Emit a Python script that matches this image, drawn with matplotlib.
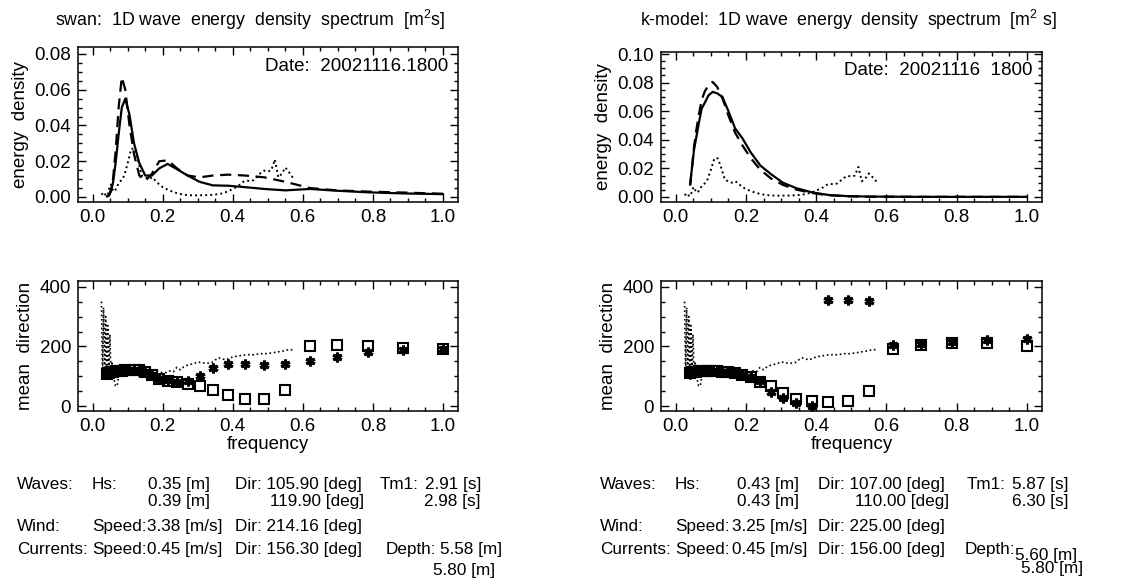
import numpy as np
import matplotlib
matplotlib.use("Agg")
import matplotlib.pyplot as plt
from matplotlib.ticker import MultipleLocator, FormatStrFormatter

plt.rcParams['font.family'] = ['Liberation Sans', 'DejaVu Sans']
plt.rcParams['mathtext.default'] = 'regular'

# model frequency grid [Hz]
freq = [0.041, 0.046, 0.052, 0.058, 0.066, 0.074, 0.083, 0.093, 0.105, 0.118,
        0.133, 0.150, 0.169, 0.190, 0.214, 0.241, 0.271, 0.305, 0.343, 0.387,
        0.435, 0.490, 0.550, 0.620, 0.698, 0.787, 0.886, 1.000]

# swan spectra (solid / dashed)
swan_e1 = [0.0003, 0.0008, 0.003, 0.008, 0.020, 0.035, 0.050, 0.055, 0.046, 0.030,
           0.019, 0.012, 0.012, 0.016, 0.0185, 0.0155, 0.012, 0.0085, 0.0065, 0.0063,
           0.0055, 0.0045, 0.0037, 0.0045, 0.0035, 0.0026, 0.0020, 0.0016]
swan_e2 = [0.0003, 0.0008, 0.004, 0.010, 0.027, 0.050, 0.067, 0.060, 0.040, 0.024,
           0.012, 0.009, 0.013, 0.020, 0.0205, 0.016, 0.012, 0.011, 0.012, 0.0125,
           0.012, 0.011, 0.0085, 0.005, 0.0037, 0.003, 0.0025, 0.0018]
# k-model spectra (solid / dashed)
kmod_e1 = [0.009, 0.020, 0.033, 0.041, 0.052, 0.062, 0.066, 0.071, 0.0735, 0.0725,
           0.070, 0.060, 0.048, 0.041, 0.031, 0.022, 0.016, 0.010, 0.0062, 0.0033,
           0.0014, 0.0006, 0.0003, 0.0002, 0.0001, 0.0001, 0.0001, 0.0001]
kmod_e2 = [0.008, 0.020, 0.035, 0.046, 0.058, 0.068, 0.074, 0.078, 0.0805, 0.077,
           0.069, 0.057, 0.045, 0.036, 0.027, 0.019, 0.013, 0.0085, 0.0052, 0.0028,
           0.0012, 0.0005, 0.0002, 0.0002, 0.0001, 0.0001, 0.0001, 0.0001]

# mean directions [deg] (squares / asterisks)
swan_d1 = [108, 112, 115, 116, 117, 118, 119, 120, 121, 121,
           120, 115, 103, 92, 86, 81, 75, 67, 53, 38,
           25, 25, 55, 202, 206, 202, 195, 193]
swan_d2 = [110, 115, 117, 118, 119, 120, 121, 122, 122, 121,
           119, 114, 105, 92, 87, 82, 86, 101, 128, 140,
           142, 139, 142, 151, 165, 181, 189, 193]
kmod_d1 = [110, 113, 115, 116, 117, 118, 118, 118, 118, 117,
           116, 114, 112, 106, 97, 82, 67, 43, 25, 16,
           13, 17, 52, 190, 205, 212, 213, 203]
kmod_d2 = [108, 112, 115, 117, 118, 118, 119, 119, 118, 117,
           116, 114, 112, 106, 98, 84, 49, 27, 11, 2,
           357, 357, 351, 206, 208, 216, 223, 225]

# observed buoy spectrum (dotted)
obs_f = [0.025, 0.028, 0.031, 0.034, 0.037, 0.040, 0.043, 0.046, 0.049, 0.052,
         0.055, 0.060, 0.065, 0.070, 0.075, 0.080, 0.085, 0.090, 0.10, 0.11,
         0.12, 0.13, 0.14, 0.15, 0.16, 0.17, 0.18, 0.19, 0.20, 0.21,
         0.22, 0.23, 0.24, 0.25, 0.26, 0.27, 0.28, 0.29, 0.30, 0.31,
         0.32, 0.33, 0.34, 0.35, 0.36, 0.37, 0.38, 0.39, 0.40, 0.41,
         0.42, 0.43, 0.44, 0.45, 0.46, 0.47, 0.48, 0.49, 0.50, 0.51,
         0.52, 0.53, 0.54, 0.55, 0.56, 0.575]
obs_e = [0.002, 0.0015, 0.001, 0.002, 0.001, 0.0005, 0.0015, 0.004, 0.006, 0.007,
         0.005, 0.003, 0.004, 0.006, 0.008, 0.009, 0.010, 0.012, 0.019, 0.027,
         0.027, 0.020, 0.012, 0.011, 0.010, 0.011, 0.009, 0.007, 0.0055, 0.0045,
         0.0036, 0.0028, 0.0022, 0.0017, 0.0013, 0.0011, 0.0010, 0.0009, 0.0009, 0.0010,
         0.0010, 0.0011, 0.0012, 0.0014, 0.0017, 0.0020, 0.0027, 0.0035, 0.0045, 0.0055,
         0.0068, 0.0085, 0.0092, 0.0088, 0.0095, 0.0115, 0.0135, 0.0148, 0.0142, 0.015,
         0.021, 0.011, 0.013, 0.0165, 0.014, 0.0098]
obs_d = [350, 105, 330, 100, 300, 110, 270, 105, 240, 110,
         150, 95, 68, 68, 110, 140, 128, 122, 125, 122,
         126, 128, 126, 122, 120, 121, 120, 115, 112, 113,
         118, 115, 130, 122, 132, 137, 140, 143, 148, 146,
         144, 144, 146, 155, 162, 158, 155, 160, 165, 167,
         169, 171, 172, 173, 172, 174, 176, 175, 177, 178,
         180, 182, 184, 186, 190, 188]

titles = ["swan:  1D wave  energy  density  spectrum  [m$^2$s]",
          "k-model:  1D wave  energy  density  spectrum  [m$^2$ s]"]
dates = ["Date:  20021116.1800", "Date:  20021116  1800"]

W, H = 1139, 587
fig = plt.figure(figsize=(W / 100, H / 100), dpi=100)
LBL = 13.5


def box(x0, y0, x1, y1):
    return [x0 / W, 1 - y1 / H, (x1 - x0) / W, (y1 - y0) / H]


def style(ax, ymaj, ymin):
    ax.set_xlim(-0.042, 1.043)
    ax.xaxis.set_major_locator(MultipleLocator(0.2))
    ax.xaxis.set_minor_locator(MultipleLocator(0.05))
    ax.yaxis.set_major_locator(MultipleLocator(ymaj))
    ax.yaxis.set_minor_locator(MultipleLocator(ymin))
    ax.tick_params(which='both', direction='in', top=True, right=True, labelsize=LBL, pad=5)
    ax.tick_params(which='major', length=5.5, width=1)
    ax.tick_params(which='minor', length=2.8, width=1)
    for s in ax.spines.values():
        s.set_linewidth(1.1)


top_axes = [fig.add_axes(box(78, 47, 458, 202)), fig.add_axes(box(661, 52, 1042, 202))]
bot_axes = [fig.add_axes(box(78, 281, 458, 411)), fig.add_axes(box(661, 281, 1042, 411))]

spec = [(swan_e1, swan_e2), (kmod_e1, kmod_e2)]
dirs = [(swan_d1, swan_d2), (kmod_d1, kmod_d2)]
ylims = [(-0.0028, 0.0839), (-0.0035, 0.1014)]

for i in range(2):
    ax = top_axes[i]
    ax.plot(freq, spec[i][0], color='black', lw=1.6)
    ax.plot(freq, spec[i][1], color='black', lw=1.6, dashes=(5, 3))
    ax.plot(obs_f, obs_e, color='black', lw=1.4, linestyle=(0, (1, 1.6)))
    ax.set_ylim(*ylims[i])
    style(ax, 0.02, 0.005)
    ax.yaxis.set_major_formatter(FormatStrFormatter('%.2f'))
    ax.set_ylabel("energy  density", fontsize=LBL, labelpad=4)
    ax.text(0.975, 0.875, dates[i], transform=ax.transAxes, ha='right', va='center', fontsize=LBL)

    ax = bot_axes[i]
    ax.plot(obs_f, obs_d, color='black', lw=1.2, linestyle=(0, (1, 1.6)))
    ax.plot(freq, dirs[i][0], linestyle='none', marker='s', ms=6.5, mfc='none', mec='black', mew=1.5)
    ax.plot(freq, dirs[i][1], linestyle='none', marker=(6, 2, 0), ms=7, mec='black', mew=2.2)
    ax.set_ylim(-16, 419)
    style(ax, 200, 50)
    ax.yaxis.set_major_formatter(FormatStrFormatter('%d'))
    ax.set_ylabel("mean  direction", fontsize=LBL, labelpad=4)
    ax.set_xlabel("frequency", fontsize=LBL, labelpad=1)

fig.text(250 / W, 1 - 20 / H, titles[0], ha='center', va='center', fontsize=12.8)
fig.text(848 / W, 1 - 20 / H, titles[1], ha='center', va='center', fontsize=12.8)

# parameter block (y = text baseline in pixels)
fs = 12.3


def put(x, y, s, ha='left'):
    fig.text(x / W, 1 - y / H, s, ha=ha, va='baseline', fontsize=fs)


# left (swan)
put(17, 489, "Waves:")
put(92, 489, "Hs:")
put(148, 489, "0.35 [m]")
put(235, 489, "Dir: 105.90 [deg]")
put(380, 489, "Tm1:")
put(481, 489, "2.91 [s]", 'right')
put(148, 506, "0.39 [m]")
put(364, 506, "119.90 [deg]", 'right')
put(481, 506, "2.98 [s]", 'right')
put(17, 531, "Wind:")
put(92, 531, "Speed:")
put(147, 531, "3.38 [m/s]")
put(235, 531, "Dir: 214.16 [deg]")
put(17, 554, "Currents:")
put(92, 554, "Speed:")
put(147, 554, "0.45 [m/s]")
put(235, 554, "Dir: 156.30 [deg]")
put(386, 554, "Depth:")
put(440, 554, "5.58 [m]")
put(495, 575, "5.80 [m]", 'right')

# right (k-model)
put(600, 489, "Waves:")
put(675, 489, "Hs:")
put(737, 489, "0.43 [m]")
put(818, 489, "Dir: 107.00 [deg]")
put(967, 489, "Tm1:")
put(1068, 489, "5.87 [s]", 'right')
put(737, 506, "0.43 [m]")
put(949, 506, "110.00 [deg]", 'right')
put(1068, 506, "6.30 [s]", 'right')
put(600, 531, "Wind:")
put(675, 531, "Speed:")
put(732, 531, "3.25 [m/s]")
put(818, 531, "Dir: 225.00 [deg]")
put(600, 554, "Currents:")
put(675, 554, "Speed:")
put(732, 554, "0.45 [m/s]")
put(818, 554, "Dir: 156.00 [deg]")
put(965, 554, "Depth:")
put(1015, 560, "5.60 [m]")
put(1083, 573, "5.80 [m]", 'right')

fig.savefig("out.png", dpi=100)
